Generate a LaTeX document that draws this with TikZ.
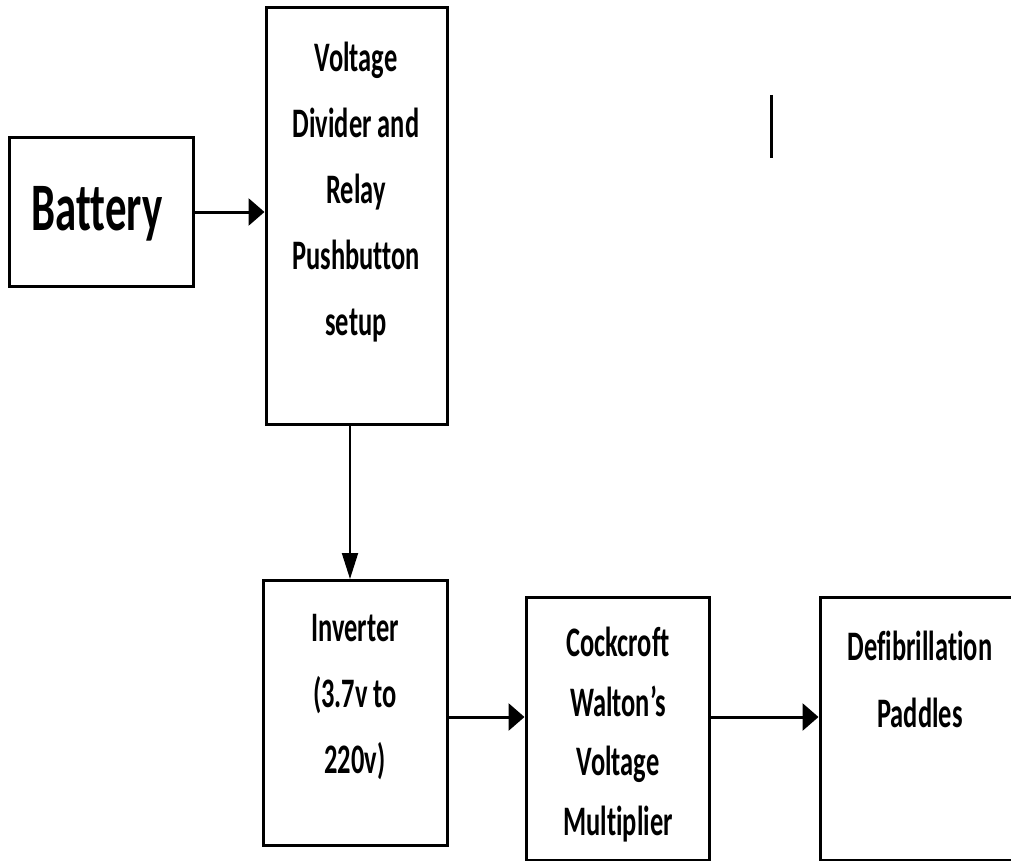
\documentclass[tikz,border=0pt]{standalone}
\usepackage{fontspec}
\setmainfont{Carlito}[FakeStretch=0.63, Ligatures=NoCommon, BoldFont={Carlito Bold}]
\usepackage{tikz}
\usetikzlibrary{arrows.meta,calc}

\begin{document}
\begin{tikzpicture} [x=1pt, y=-1pt,
        block/.style={draw, line width=3pt, inner sep=0pt},
        label/.style={align=center, inner sep=0pt, anchor=base, font=\fontsize{42}{66}\selectfont\bfseries},
        flow/.style={line width=3pt, -{Triangle[length=16pt,width=27pt]}},
        drop/.style={line width=2pt, -{Triangle[length=26pt,width=16pt]}}]

        \useasboundingbox (0, 0) rectangle (1011, 861);
        \clip (0, 0) rectangle (1011, 861);

        \node[block, minimum width=184pt, minimum height=148pt] (batt) at (101, 212) {};
        \node[block, minimum width=181pt, minimum height=416pt] (vd) at (356.5, 216) {};
        \node[block, minimum width=184pt, minimum height=265pt] (inv) at (355, 713) {};
        \node[block, minimum width=183pt, minimum height=263pt] (cw) at (617.5, 728.5) {};
        \node[block, minimum width=200pt, minimum height=263pt] (defib) at (920, 728.5) {};

        \node[label, font=\fontsize{68}{80}\selectfont\bfseries] (battText) at (97, 230) {Battery};
        \node[label] (vdText) at (356, 335) {Voltage\\Divider and\\Relay\\Pushbutton\\setup};
        \node[label] (invText) at (355, 773) {Inverter\\(3.7v to\\220v)};
        \node[label, font=\fontsize{42}{59.5}\selectfont\bfseries] (cwText) at (618, 835) {Cockcroft\\Walton’s\\Voltage\\Multiplier};
        \node[label, font=\fontsize{42}{67}\selectfont\bfseries] (defibText) at (920, 727) {Defibrillation\\Paddles};

        \draw[flow] (batt.east) -- (batt.east -| vd.west);
        \draw[drop] ([xshift=-6.5pt]vd.south) -- ([xshift=-6.5pt]vd.south |- inv.north);
        \draw[flow] ([yshift=-4pt]inv.east) -- ([yshift=-4pt]inv.east -| cw.west);
        \draw[flow] ([yshift=11.5pt]cw.east) -- ([yshift=11.5pt]cw.east -| defib.west);

        \coordinate (tickTop) at (771, 95);
        \coordinate (tickBot) at (771, 158);
        \draw[line width=3pt] (tickTop) -- (tickBot);
    \end{tikzpicture}
\end{document}
